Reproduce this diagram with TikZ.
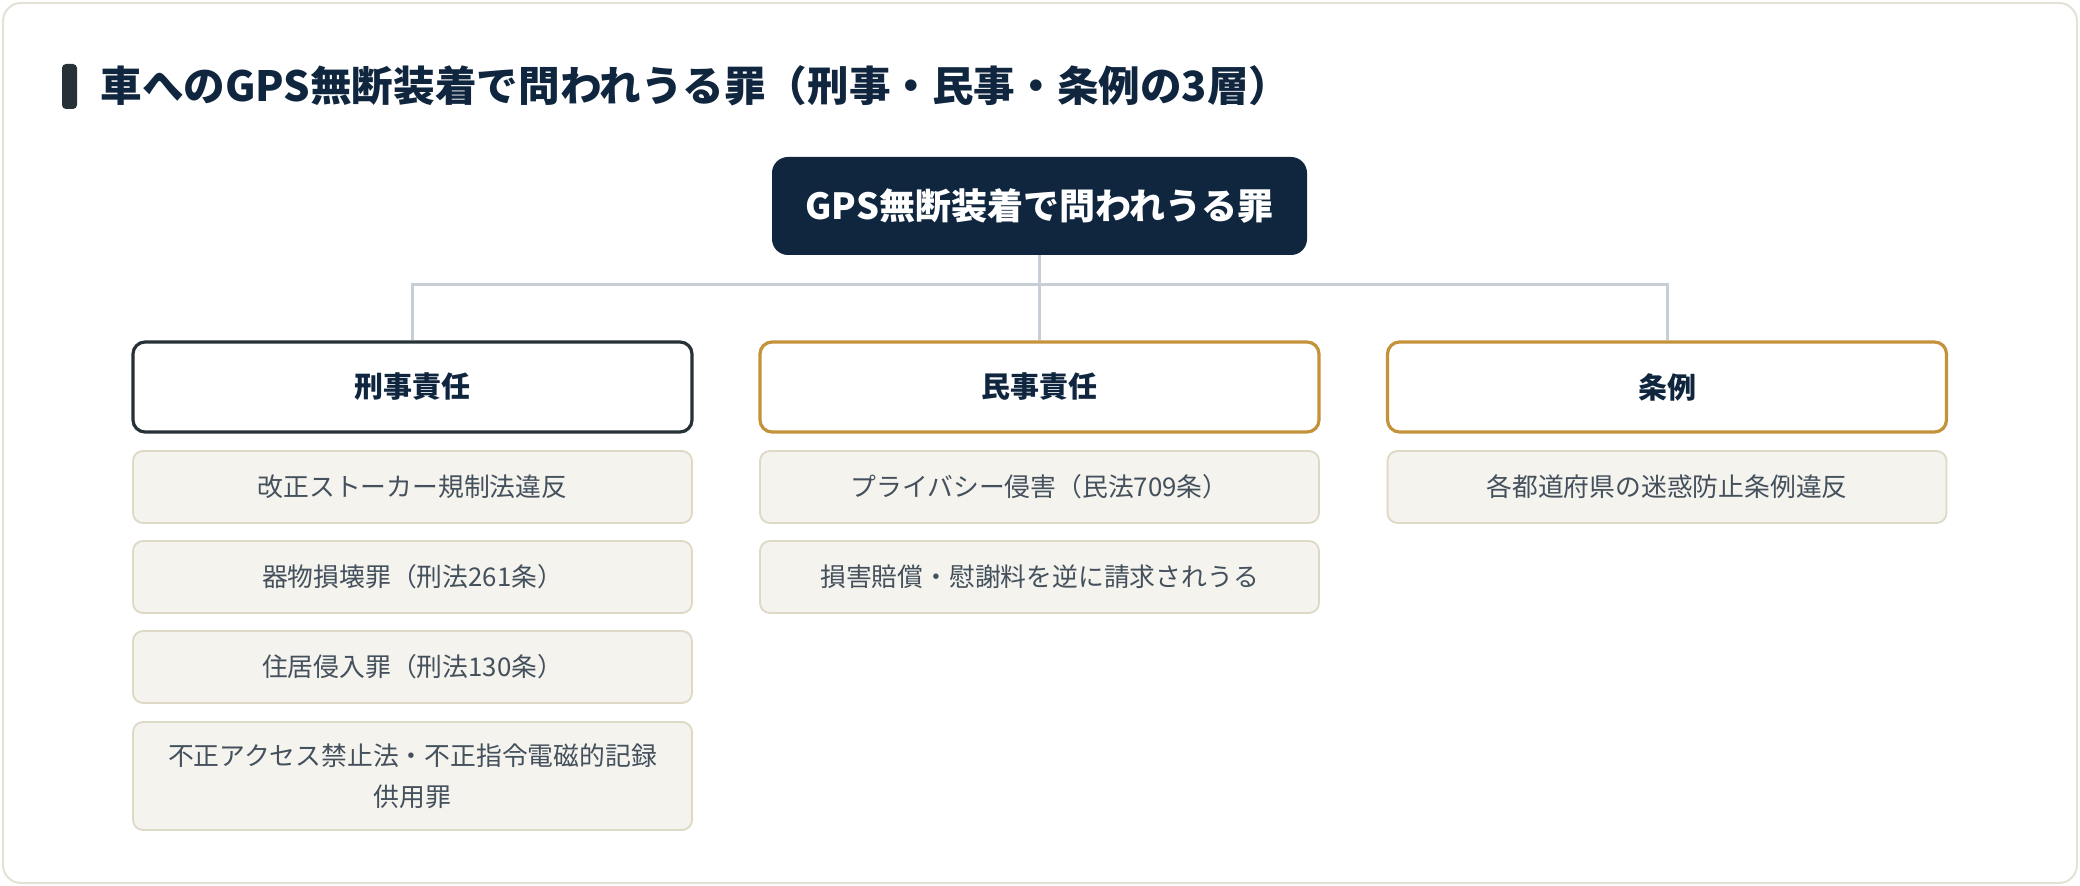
\documentclass[tikz,border=0pt]{standalone}
\usepackage{fontspec}
\setmainfont{Noto Sans CJK JP}
\definecolor{navy}{HTML}{10263F}
\definecolor{barc}{HTML}{263238}
\definecolor{gold}{HTML}{C4923A}
\definecolor{itembg}{HTML}{F4F3EE}
\definecolor{itemline}{HTML}{DDD9C6}
\definecolor{itemtext}{HTML}{44505C}
\definecolor{linkgray}{HTML}{C8CED8}
\definecolor{cardline}{HTML}{E4E2D6}

\begin{document}
\begin{tikzpicture}[x=0.5pt, y=-0.5pt,
  cat/.style={draw=#1, line width=1.6pt, fill=white, rounded corners=6pt, minimum width=279.5pt, minimum height=45pt, font=\bfseries\fontsize{14.5}{17}\selectfont, text=navy},
  item/.style={draw=itemline, line width=0.9pt, fill=itembg, rounded corners=5pt, minimum width=279.5pt, minimum height=36pt, font=\fontsize{12.9}{20.5}\selectfont, text=itemtext, align=center},
  link/.style={draw=linkgray, line width=1.5pt}]
	\useasboundingbox (0,0) rectangle (2080,886);
	\draw[cardline, line width=1pt, fill=white, rounded corners=9pt] (3,3) rectangle (2077,883);

	% title
	\fill[barc, rounded corners=2pt] (62,64) rectangle (77,109);
	\node[anchor=west, inner sep=0pt, font=\bfseries\fontsize{20.8}{24}\selectfont, text=navy] (title) at (100,86) {車へのGPS無断装着で問われうる罪（刑事・民事・条例の3層）};

	% root and the three layers
	\node[fill=navy, rounded corners=8pt, minimum width=267.5pt, minimum height=49pt, text=white, font=\bfseries\fontsize{18}{21}\selectfont] (root) at (1039.5,206) {GPS無断装着で問われうる罪};
	\node[cat=barc] (c1) at (412.5,387) {刑事責任};
	\node[cat=gold] (c2) at (1039.5,387) {民事責任};
	\node[cat=gold] (c3) at (1667,387) {条例};

	\coordinate (bus) at (1039.5,285);
	\draw[link] (root) -- (bus);
	\foreach \c in {c1,c2,c3} {
		\draw[link] (\c.north) |- (bus);
	}

	% items
	\foreach \txt [count=\k] in {改正ストーカー規制法違反, 器物損壊罪（刑法261条）, 住居侵入罪（刑法130条）} {
		\node[item] (k\k) at (412.5,{487+90*(\k-1)}) {\txt};
	}
	\node[item, minimum height=54pt] (k4) at (412.5,776) {不正アクセス禁止法・不正指令電磁的記録\\供用罪};
	\foreach \txt [count=\k] in {プライバシー侵害（民法709条）, 損害賠償・慰謝料を逆に請求されうる} {
		\node[item] (m\k) at (1039.5,{487+90*(\k-1)}) {\txt};
	}
	\node[item] (j1) at (1667,487) {各都道府県の迷惑防止条例違反};
\end{tikzpicture}
\end{document}
